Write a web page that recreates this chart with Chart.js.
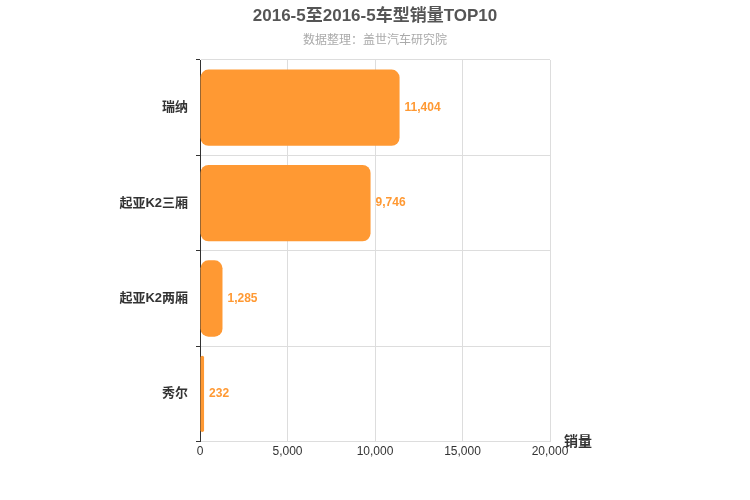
<!DOCTYPE html>
<html><head><meta charset="utf-8">
<script src="https://cdn.jsdelivr.net/npm/chart.js@4"></script>
<style>body{margin:0;background:#fff}#wrap{width:750px;height:500px}</style>
</head><body><div id="wrap"><canvas id="c"></canvas></div>
<script>
const categories = ["瑞纳", "起亚K2三厢", "起亚K2两厢", "秀尔"];
const sales = [11404, 9746, 1285, 232];
const xTicks = [0, 5000, 10000, 15000, 20000];

const orange = "#ff9933";
const font = "'Liberation Sans', 'Noto Sans CJK SC', sans-serif";

// title, labels at bar ends, axis name
const extras = {
  id: "extras",
  afterDatasetsDraw(chart) {
    const ctx = chart.ctx;
    const meta = chart.getDatasetMeta(0);
    ctx.save();
    ctx.textAlign = "center";
    ctx.textBaseline = "middle";
    ctx.fillStyle = "#555";
    ctx.font = "bold 17px " + font;
    ctx.fillText("2016-5至2016-5车型销量TOP10", 375, 16);
    ctx.fillStyle = "#aaa";
    ctx.font = "12px " + font;
    ctx.fillText("数据整理：盖世汽车研究院", 375, 41);
    ctx.textAlign = "left";
    ctx.font = "bold 12px " + font;
    ctx.fillStyle = orange;
    meta.data.forEach((bar, i) => {
      ctx.fillText(sales[i].toLocaleString("en-US"), bar.x + 5, bar.y);
    });
    const a = chart.chartArea;
    ctx.fillStyle = "#333";
    ctx.font = "bold 14px " + font;
    ctx.fillText("销量", a.right + 14, a.bottom + 1);
    ctx.restore();
  }
};

new Chart(document.getElementById("c"), {
  type: "bar",
  data: {
    labels: categories,
    datasets: [{ data: sales, backgroundColor: orange, borderRadius: 8, borderSkipped: false,
      barPercentage: 0.8, categoryPercentage: 1 }]
  },
  options: {
    indexAxis: "y",
    responsive: true, maintainAspectRatio: false, animation: false,
    layout: { padding: { left: 0, right: 200, top: 60, bottom: 38 } },
    plugins: { legend: { display: false }, tooltip: { enabled: false } },
    scales: {
      x: {
        min: 0, max: 20000,
        afterBuildTicks: s => { s.ticks = xTicks.map(v => ({ value: v })); },
        ticks: { color: "#333", font: { size: 12, family: font }, callback: v => v.toLocaleString("en-US") },
        grid: { color: "#ddd", drawTicks: false }, border: { display: false }
      },
      y: {
        afterFit: s => { s.width = 200; },
        ticks: { color: "#333", font: { size: 13, weight: "bold", family: font }, padding: 8 },
        grid: { color: "#ddd", offset: true, tickLength: 4, tickColor: "#333" },
        border: { color: "#333" }
      }
    }
  },
  plugins: [extras]
});
</script></body></html>
